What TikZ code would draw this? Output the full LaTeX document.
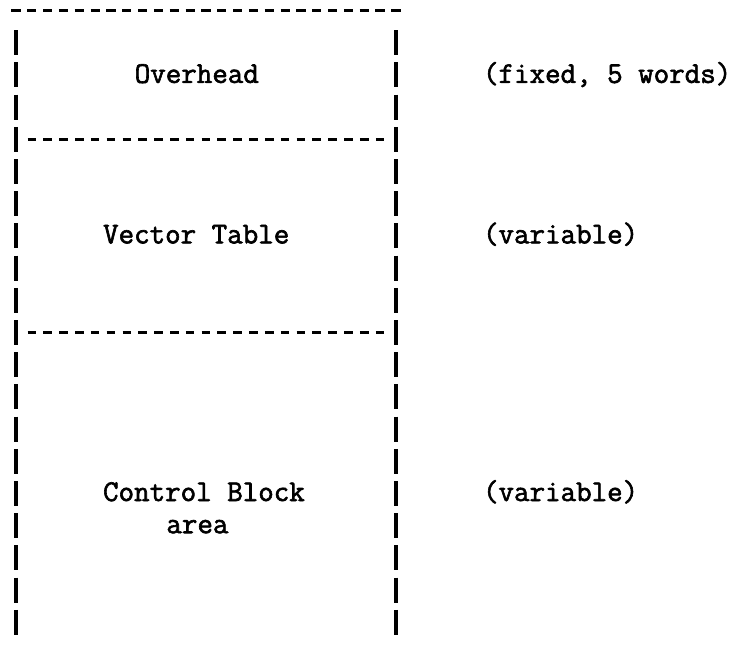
\documentclass[tikz,border=0pt]{standalone}
\usepackage{fontspec}
\newfontfamily\codefont{Latin Modern Mono}[FakeBold=2]
\tikzset{
  dashseg/.style={line width=2.4pt, line cap=butt},
  barseg/.style={line width=2.6pt, line cap=butt},
  ttlabel/.style={anchor=base west, inner sep=0pt, outer sep=0pt,
    font=\fontsize{22.6}{27}\selectfont\codefont}
}
% character grid: columns every 15.83 units, rows every 32.2 units
\newcommand{\colx}[1]{16+15.83*(#1)}
\newcommand{\rowy}[1]{10.5+32.2*(#1)}
\begin{document}
\begin{tikzpicture}[x=0.75pt, y=-0.75pt]
  \useasboundingbox (0,0) rectangle (737,650);

  % top edge: dashes in columns 0..24
  \foreach \c in {0,...,24}
    \draw[dashseg] ({\colx{\c}-4.6},{\rowy{0}}) -- ({\colx{\c}+4.6},{\rowy{0}});

  % separators between the three areas: dashes in columns 1..23
  \foreach \r in {4,10}
    \foreach \c in {1,...,23}
      \draw[dashseg] ({\colx{\c}-4.3},{\rowy{\r}}) -- ({\colx{\c}+4.3},{\rowy{\r}});

  % side walls: one bar per row, rows 1..19
  \foreach \r in {1,...,19}
    \foreach \c in {0,24}
      \draw[barseg] ({\colx{\c}},{\rowy{\r}-12.5}) -- ({\colx{\c}},{\rowy{\r}+12.5});

  % area names
  \node[ttlabel] (overhead) at ({\colx{8}-7.9},{\rowy{2}+8}) {Overhead};
  \node[ttlabel] (vectab) at ({\colx{6}-7.9},{\rowy{7}+7.5}) {Vector Table};
  \node[ttlabel] (ctlblk) at ({\colx{6}-7.9},{\rowy{15}+7.5}) {Control Block};
  \node[ttlabel] (ctlarea) at ({\colx{10}-7.9},{\rowy{16}+7.5}) {area};

  % sizes
  \node[ttlabel] (fixedsz) at ({\colx{30}-7.9},{\rowy{2}+8}) {(fixed, 5 words)};
  \node[ttlabel] (varsz1) at ({\colx{30}-7.9},{\rowy{7}+7.5}) {(variable)};
  \node[ttlabel] (varsz2) at ({\colx{30}-7.9},{\rowy{15}+7.5}) {(variable)};
\end{tikzpicture}
\end{document}
